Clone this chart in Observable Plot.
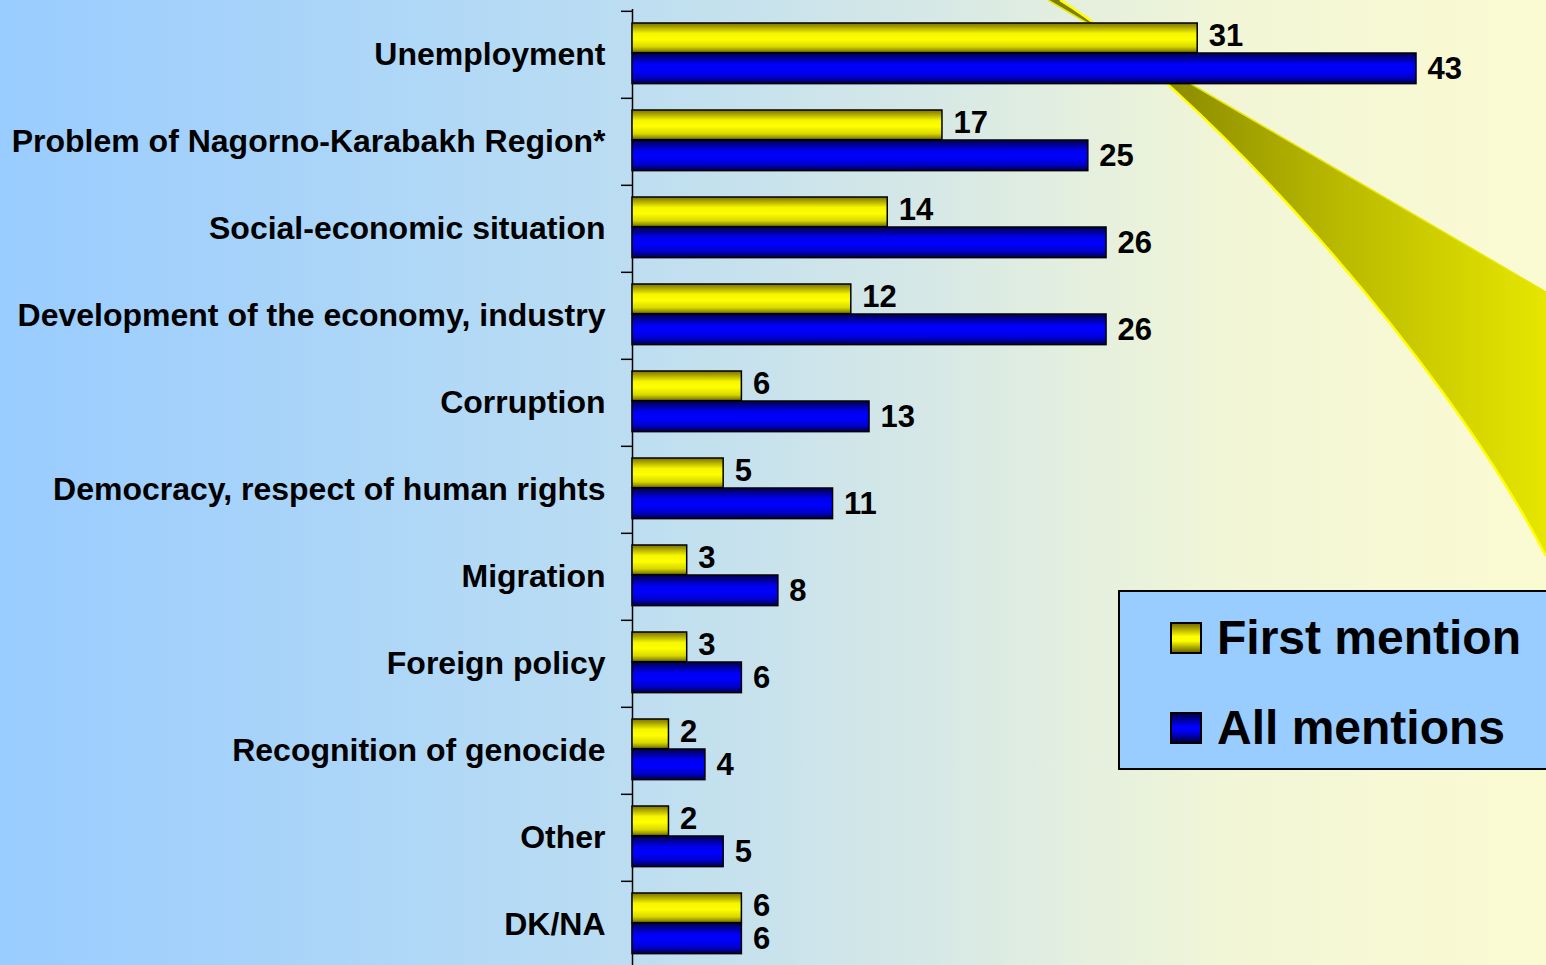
<!DOCTYPE html>
<html>
<head>
<meta charset="utf-8">
<script src="https://cdn.jsdelivr.net/npm/d3@7"></script>
<script src="https://cdn.jsdelivr.net/npm/@observablehq/plot@0.6"></script>
<style>
  html, body { margin: 0; padding: 0; overflow: hidden; width: 1546px; height: 965px; }
  body { position: relative; font-family: "Liberation Sans", Arial, sans-serif;
    background: linear-gradient(to right, #99ccff 0%, #b9dcf3 38%, #d6e8e6 60%, #f2f6d6 80%, #fbfbd2 100%); }
  #deco { position: absolute; left: 0; top: 0; }
  #chart { position: absolute; left: 0; top: 0; }
  #legend { position: absolute; left: 1118px; top: 590px; width: 440px; height: 180px;
    background: #99ccff; border: 2px solid #000; box-sizing: border-box; }
  .item { position: absolute; left: 50px; display: flex; align-items: center;
    font-weight: bold; font-size: 48px; color: #000; line-height: 1; }
  .sw { width: 28px; height: 28px; border: 2px solid #000; margin-right: 15px; }
</style>
</head>
<body>
<svg width="0" height="0" style="position:absolute">
  <defs>
    <linearGradient id="gy" x1="0" y1="0" x2="0" y2="1">
      <stop offset="0" stop-color="#7a7000"/>
      <stop offset="0.35" stop-color="#f5f500"/>
      <stop offset="0.55" stop-color="#ffff00"/>
      <stop offset="0.8" stop-color="#d8d800"/>
      <stop offset="1" stop-color="#6e6a00"/>
    </linearGradient>
    <linearGradient id="gb" x1="0" y1="0" x2="0" y2="1">
      <stop offset="0" stop-color="#00004a"/>
      <stop offset="0.35" stop-color="#0000f0"/>
      <stop offset="0.55" stop-color="#0000ff"/>
      <stop offset="0.8" stop-color="#0000cc"/>
      <stop offset="1" stop-color="#000040"/>
    </linearGradient>
    <linearGradient id="gs" x1="1120" y1="0" x2="1546" y2="0" gradientUnits="userSpaceOnUse">
      <stop offset="0" stop-color="#7e7e00"/>
      <stop offset="0.5" stop-color="#b8b800"/>
      <stop offset="1" stop-color="#e6e600"/>
    </linearGradient>
  </defs>
</svg>
<svg id="deco" width="1546" height="965">
  <path d="M1048,0 L1546,292 L1546,556 C1440,350 1190,80 1060,0 Z" fill="url(#gs)"/>
  <path d="M1060,0 C1190,80 1440,350 1546,556" fill="none" stroke="#ffff00" stroke-width="2.5"/>
  <path d="M1048,0 L1546,292" fill="none" stroke="#e8e800" stroke-width="1.5"/>
</svg>
<div id="chart"></div>
<div id="legend">
  <div class="item" style="top:22px"><div class="sw" style="background:linear-gradient(#7a7000,#ffff00 45%,#ffff00 60%,#6e6a00)"></div>First mention</div>
  <div class="item" style="top:112px"><div class="sw" style="background:linear-gradient(#00004a,#0000ff 45%,#0000ff 60%,#000040)"></div>All mentions</div>
</div>
<script>
const categories = [
  "Unemployment",
  "Problem of Nagorno-Karabakh Region*",
  "Social-economic situation",
  "Development of the economy, industry",
  "Corruption",
  "Democracy, respect of human rights",
  "Migration",
  "Foreign policy",
  "Recognition of genocide",
  "Other",
  "DK/NA"
];
const firstMention = [31, 17, 14, 12, 6, 5, 3, 3, 2, 2, 6];
const allMentions  = [43, 25, 26, 26, 13, 11, 8, 6, 4, 5, 6];

const firstRows = categories.map((c, i) => ({category: c, value: firstMention[i]}));
const allRows = categories.map((c, i) => ({category: c, value: allMentions[i]}));

const W = 1546, H = 970, mT = 9, mB = 0, mL = 632, mR = 130;
const bw = (H - mT - mB) / categories.length;
const font = "Liberation Sans, Arial, sans-serif";

const chart = Plot.plot({
  width: W,
  height: H,
  marginTop: mT,
  marginBottom: mB,
  marginLeft: mL,
  marginRight: mR,
  style: {background: "transparent", overflow: "visible", fontFamily: font, color: "#000"},
  x: {domain: [0, d3.max(allMentions)], axis: null},
  y: {domain: categories, padding: 0, axis: null},
  marks: [
    Plot.axisY({anchor: "left", tickSize: 0, tickPadding: 27, fontSize: 32, fontWeight: "bold", label: null, fill: "#000"}),
    Plot.ruleX([0], {stroke: "#000", strokeWidth: 1.5}),
    Plot.ruleY(categories, {y: d => d, x1: 0, x2: 0, insetLeft: -11, dy: -bw / 2, stroke: "#000", strokeWidth: 1.5}),
    Plot.barX(firstRows, {y: "category", x: "value", insetTop: 12, insetBottom: bw - 42, fill: "url(#gy)", stroke: "#000", strokeWidth: 1.5}),
    Plot.barX(allRows, {y: "category", x: "value", insetTop: 42, insetBottom: bw - 73, fill: "url(#gb)", stroke: "#000", strokeWidth: 1.5}),
    Plot.text(firstRows, {y: "category", x: "value", text: d => String(d.value), dx: 11, dy: 25 - bw / 2, textAnchor: "start", fontSize: 31, fontWeight: "bold", fill: "#000"}),
    Plot.text(allRows, {y: "category", x: "value", text: d => String(d.value), dx: 11, dy: 58 - bw / 2, textAnchor: "start", fontSize: 31, fontWeight: "bold", fill: "#000"})
  ]
});
document.getElementById("chart").appendChild(chart);
</script>
</body>
</html>
